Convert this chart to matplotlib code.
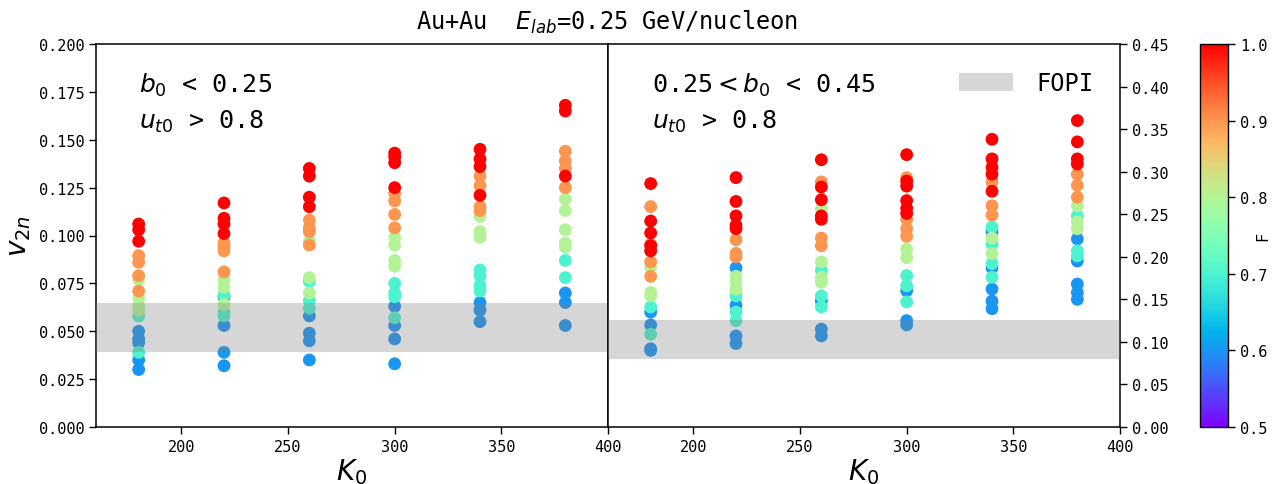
import numpy as np
import matplotlib
matplotlib.use("Agg")
import matplotlib.pyplot as plt
from matplotlib import cm, colors

plt.rcParams['font.family'] = ['DejaVu Sans Mono', 'DejaVu Sans']
plt.rcParams['mathtext.fontset'] = 'dejavusans'

# ---- data -------------------------------------------------------------
k0_values = [180, 220, 260, 300, 340, 380]
levels = [1.0, 0.9, 0.8, 0.7, 0.6]

# v2n for b0 < 0.25, per K0 column, grouped by colour level (1.0 ... 0.6)
v2n_central = {
    180: [[0.106, 0.103, 0.097], [0.0895, 0.086, 0.079, 0.071],
          [0.077, 0.067, 0.063, 0.061], [0.058, 0.039],
          [0.050, 0.046, 0.044, 0.035, 0.030]],
    220: [[0.117, 0.109, 0.106, 0.101], [0.096, 0.094, 0.092, 0.081],
          [0.077, 0.073, 0.064], [0.069, 0.060, 0.058],
          [0.068, 0.053, 0.039, 0.032]],
    260: [[0.135, 0.131, 0.120, 0.115], [0.108, 0.104, 0.102, 0.095],
          [0.097, 0.078, 0.070], [0.076, 0.066, 0.062],
          [0.058, 0.049, 0.045, 0.035]],
    300: [[0.143, 0.141, 0.138, 0.125], [0.122, 0.118, 0.111, 0.104],
          [0.099, 0.095, 0.087, 0.084], [0.075, 0.070, 0.068, 0.057],
          [0.063, 0.053, 0.046, 0.033]],
    340: [[0.145, 0.140, 0.136, 0.121], [0.131, 0.126, 0.115, 0.113],
          [0.110, 0.102, 0.099], [0.082, 0.079, 0.074, 0.071],
          [0.065, 0.061, 0.055]],
    380: [[0.168, 0.165, 0.131], [0.144, 0.139, 0.135, 0.125],
          [0.119, 0.113, 0.103, 0.096, 0.094], [0.087, 0.078],
          [0.070, 0.065, 0.053]],
}

# v2n for 0.25 < b0 < 0.45
v2n_midcentral = {
    180: [[0.286, 0.242, 0.228, 0.213, 0.207], [0.259, 0.215, 0.194, 0.177],
          [0.188, 0.158, 0.154], [0.141, 0.109],
          [0.135, 0.120, 0.092, 0.090]],
    220: [[0.293, 0.265, 0.248, 0.237, 0.233], [0.220, 0.204, 0.200],
          [0.177, 0.171, 0.162], [0.154, 0.135, 0.125],
          [0.187, 0.143, 0.107, 0.098]],
    260: [[0.314, 0.282, 0.267, 0.248, 0.244], [0.288, 0.222, 0.213],
          [0.256, 0.194, 0.176, 0.170], [0.184, 0.154, 0.141],
          [0.148, 0.115, 0.107]],
    300: [[0.320, 0.289, 0.283, 0.266, 0.257, 0.251], [0.293, 0.244, 0.233, 0.224],
          [0.209, 0.199], [0.178, 0.166, 0.147],
          [0.160, 0.125, 0.120]],
    340: [[0.338, 0.315, 0.305, 0.297, 0.277], [0.288, 0.260, 0.249],
          [0.222, 0.204], [0.235, 0.215, 0.192, 0.176],
          [0.229, 0.187, 0.162, 0.148, 0.139]],
    380: [[0.360, 0.335, 0.315, 0.309], [0.297, 0.284, 0.270],
          [0.260, 0.241, 0.233], [0.248, 0.207, 0.201],
          [0.221, 0.195, 0.168, 0.158, 0.150]],
}

# FOPI experimental bands
fopi_central = (0.039, 0.065)
fopi_midcentral = (0.080, 0.126)

left_yticks = [0.000, 0.025, 0.050, 0.075, 0.100, 0.125, 0.150, 0.175, 0.200]
right_yticks = [0.00, 0.05, 0.10, 0.15, 0.20, 0.25, 0.30, 0.35, 0.40, 0.45]
xticks = [200, 250, 300, 350, 400]
cbar_ticks = [0.5, 0.6, 0.7, 0.8, 0.9, 1.0]


def flatten(table):
    """Flatten a column table; lower levels first so higher ones sit on top."""
    ks, vs, cs = [], [], []
    for k in k0_values:
        for lev, vals in reversed(list(zip(levels, table[k]))):
            for v in vals:
                ks.append(k)
                vs.append(v)
                cs.append(lev)
    return np.array(ks), np.array(vs), np.array(cs)


W, H = 1272, 485
fig = plt.figure(figsize=(W / 100, H / 100), dpi=100)


def rect(x0, y0, x1, y1):
    return [x0 / W, 1 - y1 / H, (x1 - x0) / W, (y1 - y0) / H]


ax1 = fig.add_axes(rect(96, 45, 608, 428))
ax2 = fig.add_axes(rect(608, 45, 1120, 428))
cax = fig.add_axes(rect(1200, 45, 1228, 428))

cmap = plt.get_cmap('rainbow')
norm = colors.Normalize(vmin=0.5, vmax=1.0)

for ax, table, band in ((ax1, v2n_central, fopi_central),
                        (ax2, v2n_midcentral, fopi_midcentral)):
    k, v, c = flatten(table)
    ax.scatter(k, v, c=c, cmap=cmap, norm=norm, s=85, linewidths=0, zorder=2)
    ax.axhspan(band[0], band[1], color='gray', alpha=0.32, lw=0, zorder=3,
               label='FOPI')
    ax.set_xlim(160, 400)
    ax.set_xticks(xticks)
    ax.set_xlabel('$K_0$', fontsize=20, labelpad=2)
    for s in ax.spines.values():
        s.set_linewidth(1.1)
    ax.tick_params(labelsize=11, length=5, width=1)

ax1.set_ylim(0, 0.2)
ax1.set_yticks(left_yticks)
ax1.set_yticklabels([f'{t:.3f}' for t in left_yticks])
ax1.set_ylabel('$v_{2n}$', fontsize=20, labelpad=4)

ax2.set_ylim(0, 0.45)
ax2.yaxis.tick_right()
ax2.set_yticks(right_yticks)
ax2.set_yticklabels([f'{t:.2f}' for t in right_yticks])

ax1.text(0.084, 0.895, r'$b_0$ < 0.25', transform=ax1.transAxes,
         fontsize=18, va='center')
ax1.text(0.084, 0.80, r'$u_{t0}$ > 0.8', transform=ax1.transAxes,
         fontsize=18, va='center')
ax2.text(0.085, 0.895, r'0.25$<b_0$ < 0.45', transform=ax2.transAxes,
         fontsize=18, va='center')
ax2.text(0.085, 0.80, r'$u_{t0}$ > 0.8', transform=ax2.transAxes,
         fontsize=18, va='center')

ax2.legend(loc='upper right', bbox_to_anchor=(0.99, 0.985), frameon=False,
           fontsize=17, handlelength=2.3, handleheight=0.8,
           handletextpad=1.0)

fig.text(607 / W, 1 - 22 / H, r'Au+Au  $E_{lab}$=0.25 GeV/nucleon',
         ha='center', va='center', fontsize=17)

sm = cm.ScalarMappable(norm=norm, cmap=cmap)
cb = fig.colorbar(sm, cax=cax, ticks=cbar_ticks)
cb.ax.set_yticklabels([f'{t:.1f}' for t in cbar_ticks])
cb.ax.tick_params(labelsize=11, length=5, width=1)
cb.outline.set_linewidth(1.0)
fig.text(1255 / W, 1 - 236 / H, 'F', rotation=90, ha='left', va='center',
         fontsize=11)

fig.savefig('out.png', dpi=100)
